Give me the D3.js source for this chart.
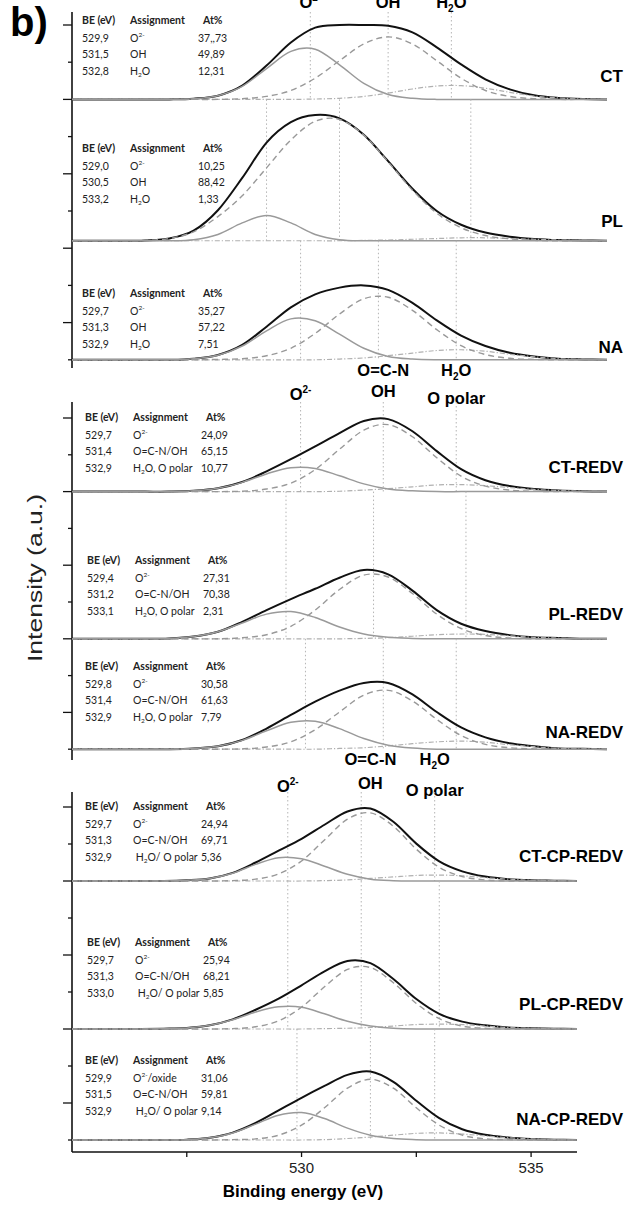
<!DOCTYPE html>
<html>
<head>
<meta charset="utf-8">
<script src="https://cdn.jsdelivr.net/npm/d3@7"></script>
<style>
  body { margin: 0; background: #fff; }
  svg { display: block; }
  text { white-space: pre; }
</style>
</head>
<body>
<div id="chart"></div>
<script>
// binding energy grid of the fitted curves (eV)
const energy = [525, 525.5, 526, 526.5, 527, 527.5, 528, 528.5, 529, 529.5, 530, 530.5, 531, 531.5, 532, 532.5, 533, 533.5, 534, 534.5, 535, 535.5, 536];

const samples = ["CT", "PL", "NA", "CT-REDV", "PL-REDV", "NA-REDV", "CT-CP-REDV", "PL-CP-REDV", "NA-CP-REDV"];

// fitted O1s components, one row per sample (a.u.)
const o2Fit = [
  [0,0,0,0,0,0.2,1.0,3.5,8.3,12.9,13.5,9.3,4.3,1.3,0.3,0,0,0,0,0,0,0,0],
  [0,0,0,0,0,0.3,1.7,4.8,6.8,4.8,1.7,0.3,0,0,0,0,0,0,0,0,0,0,0],
  [0,0,0,0,0,0.3,1.2,3.7,7.8,11.0,10.5,6.9,3.1,0.9,0.2,0,0,0,0,0,0,0,0],
  [0,0,0,0,0,0.2,0.9,2.5,4.8,6.5,6.3,4.3,2.1,0.7,0.2,0,0,0,0,0,0,0,0],
  [0,0,0,0,0.1,0.6,1.9,4.3,6.7,7.4,5.8,3.2,1.3,0.4,0.1,0,0,0,0,0,0,0,0],
  [0,0,0,0,0,0.2,0.8,2.4,5.0,7.3,7.6,5.6,2.9,1.1,0.3,0,0,0,0,0,0,0,0],
  [0,0,0,0,0,0.2,0.7,2.1,4.5,6.3,6.0,4.0,1.8,0.5,0.1,0,0,0,0,0,0,0,0],
  [0,0,0,0,0.1,0.3,1.0,2.5,4.6,6.0,5.9,4.1,2.1,0.8,0.2,0,0,0,0,0,0,0,0],
  [0,0,0,0,0,0.1,0.6,1.9,4.3,6.7,7.4,5.8,3.2,1.3,0.4,0.1,0,0,0,0,0,0,0]
];
const ohFit = [
  [0,0,0,0,0,0,0,0.2,0.8,2.4,5.7,10.4,14.9,16.8,14.9,10.4,5.7,2.4,0.8,0.2,0,0,0],
  [0,0,0,0.1,0.6,2.4,6.5,12.1,19.6,27.1,32.1,32.6,28.4,21.2,13.6,7.4,3.5,1.4,0.5,0.1,0,0,0],
  [0,0,0,0,0,0,0.1,0.3,1.1,3.1,7.1,12.3,16.4,16.8,13.3,8.1,3.8,1.4,0.4,0.1,0,0,0],
  [0,0,0,0,0,0,0,0.1,0.7,2.3,6.0,11.5,16.7,18.2,14.9,9.2,4.2,1.5,0.4,0.1,0,0,0],
  [0,0,0,0,0,0,0,0.3,1.1,3.4,7.8,13.4,17.3,16.8,12.3,6.7,2.8,0.9,0.2,0,0,0,0],
  [0,0,0,0,0,0,0,0.1,0.6,2.0,5.3,10.1,14.7,16.0,13.1,8.1,3.7,1.3,0.4,0.1,0,0,0],
  [0,0,0,0,0,0,0,0.1,0.5,1.9,5.4,11.1,16.7,18.4,14.8,8.6,3.7,1.2,0.3,0,0,0,0],
  [0,0,0,0,0,0,0,0.1,0.6,2.2,5.9,11.4,16.1,16.6,12.5,6.9,2.8,0.8,0.2,0,0,0,0],
  [0,0,0,0,0,0,0,0.1,0.3,1.3,4.0,8.7,14.0,16.4,14.0,8.7,4.0,1.3,0.3,0.1,0,0,0]
];
const h2oFit = [
  [0,0,0,0,0,0,0,0,0,0,0.1,0.3,0.8,1.7,2.8,3.6,3.7,3.0,1.9,0.9,0.4,0.1,0],
  [0,0,0,0,0,0,0,0,0,0,0,0,0.1,0.2,0.4,0.6,0.8,0.8,0.6,0.4,0.2,0.1,0],
  [0,0,0,0,0,0,0,0,0,0,0,0.2,0.5,1.1,1.8,2.5,2.7,2.3,1.5,0.8,0.3,0.1,0],
  [0,0,0,0,0,0,0,0,0,0,0,0.1,0.4,0.8,1.3,1.8,1.9,1.6,1.1,0.6,0.3,0.1,0],
  [0,0,0,0,0,0,0,0,0,0,0,0,0.1,0.3,0.7,1.1,1.3,1.2,0.8,0.4,0.2,0,0],
  [0,0,0,0,0,0,0,0,0,0,0,0.2,0.4,0.9,1.5,2.0,2.2,1.9,1.2,0.7,0.2,0.1,0],
  [0,0,0,0,0,0,0,0,0,0,0,0.1,0.3,0.7,1.1,1.5,1.6,1.4,0.9,0.5,0.2,0.1,0],
  [0,0,0,0,0,0,0,0,0,0,0,0.1,0.2,0.4,0.8,1.2,1.3,1.2,0.8,0.4,0.2,0.1,0],
  [0,0,0,0,0,0,0,0,0,0,0,0.1,0.4,0.8,1.3,1.8,1.9,1.6,1.1,0.6,0.3,0.1,0]
];

// fit tables
const beValues = [
  [529.9, 531.5, 532.8], [529.0, 530.5, 533.2], [529.7, 531.3, 532.9],
  [529.7, 531.4, 532.9], [529.4, 531.2, 533.1], [529.8, 531.4, 532.9],
  [529.7, 531.3, 532.9], [529.7, 531.3, 533.0], [529.9, 531.5, 532.9]
];
const assignments = [
  ["O^{2-}", "OH", "H_{2}O"], ["O^{2-}", "OH", "H_{2}O"], ["O^{2-}", "OH", "H_{2}O"],
  ["O^{2-}", "O=C-N/OH", "H_{2}O, O polar"], ["O^{2-}", "O=C-N/OH", "H_{2}O, O polar"], ["O^{2-}", "O=C-N/OH", "H_{2}O, O polar"],
  ["O^{2-}", "O=C-N/OH", " H_{2}O/ O polar"], ["O^{2-}", "O=C-N/OH", " H_{2}O/ O polar"], ["O^{2-}/oxide", "O=C-N/OH", " H_{2}O/ O polar"]
];
const atPercent = [
  ["37,,73", "49,89", "12,31"], ["10,25", "88,42", "1,33"], ["35,27", "57,22", "7,51"],
  ["24,09", "65,15", "10,77"], ["27,31", "70,38", "2,31"], ["30,58", "61,63", "7,79"],
  ["24,94", "69,71", "5,36"], ["25,94", "68,21", "5,85"], ["31,06", "59,81", "9,14"]
];
const tableHeader = ["BE (eV)", "Assignment", "At%"];

// peak labels above each block
const peakBE = [[529.9, 531.5, 532.8], [529.7, 531.4, 532.9], [529.7, 531.5, 532.9]];
const peakTop = [["O^{2-}", "OH", "H_{2}O"], ["", "O=C-N", "H_{2}O"], ["", "O=C-N", "H_{2}O"]];
const peakBottom = [["", "", ""], ["O^{2-}", "OH", "O polar"], ["O^{2-}", "OH", "O polar"]];

const xTicks = [527.5, 530, 532.5, 535];
const xTickLabels = ["", "530", "", "535"];

// layout of the three blocks (three stacked spectra each)
const blocks = [
  {t0: 25, step: 37.2, top: 12, bottom: 368, x1: 607, base: [2, 5.8, 9], top1: 8, top2: 8, top3: 8},
  {t0: 418, step: 36.8, top: 402, bottom: 760, x1: 607, base: [2, 6, 9], top1: 376, top2: 397, top3: 400},
  {t0: 807, step: 37, top: 792, bottom: 1152, x1: 577, base: [2, 6, 9], top1: 765, top2: 789, top3: 792}
];
const tableX = [82, 82, 82, 85, 87, 85, 85, 87, 85];
const tableY = [20, 148, 293, 417, 560, 666, 806, 942, 1060];
const labelY = [82, 227, 353, 473, 620, 738, 862, 1010, 1125];

const svg = d3.select("#chart").append("svg")
  .attr("width", 626)
  .attr("height", 1211)
  .style("font-family", "'Liberation Sans', Arial, sans-serif");

const tableFont = "Lato, 'Open Sans', sans-serif";
const fmtBE = d => d3.format(".1f")(d).replace(".", ",");

// text with ^{sup} and _{sub} parts
function rich(text, str, small, up, down) {
  let back = 0;
  str.split(/(\^\{[^}]*\}|_\{[^}]*\})/).filter(s => s).forEach(p => {
    const t = text.append("tspan");
    if (p[0] === "^") {
      t.attr("dy", back - up).attr("font-size", small).text(p.slice(2, -1));
      back = up;
    } else if (p[0] === "_") {
      t.attr("dy", back + down).attr("font-size", small).text(p.slice(2, -1));
      back = -down;
    } else {
      t.attr("dy", back).text(p);
      back = 0;
    }
  });
}

// "b)"
svg.append("text").attr("x", 10).attr("y", 36)
  .attr("font-size", 40).attr("font-weight", "bold").text("b)");

// y axis title
svg.append("text")
  .attr("transform", "translate(42, 578) rotate(-90)")
  .attr("text-anchor", "middle")
  .attr("font-size", 20)
  .attr("fill", "#222")
  .attr("textLength", 168)
  .attr("lengthAdjust", "spacingAndGlyphs")
  .text("Intensity (a.u.)");

blocks.forEach((b, g) => {
  const x = d3.scaleLinear().domain([525, 536]).range([72, b.x1]);
  const ty = d3.scaleLinear().domain([0, 9]).range([b.t0, b.t0 + 9 * b.step]);

  // y axis with alternating long / short ticks
  svg.append("line")
    .attr("x1", 72).attr("x2", 72).attr("y1", b.top).attr("y2", b.bottom)
    .attr("stroke", "#111").attr("stroke-width", 1.6);
  svg.selectAll(null).data(d3.range(10)).enter().append("line")
    .attr("x1", i => i % 2 ? 68 : 63).attr("x2", 72)
    .attr("y1", i => ty(i)).attr("y2", i => ty(i))
    .attr("stroke", "#111").attr("stroke-width", 1.3);

  // peak labels
  peakTop[g].forEach((s, k) => {
    if (!s) return;
    const t = svg.append("text")
      .attr("x", x(peakBE[g][k])).attr("y", b.top1)
      .attr("text-anchor", "middle")
      .attr("font-size", 16.5).attr("font-weight", "bold");
    rich(t, s, 10, 7, 4);
  });
  peakBottom[g].forEach((s, k) => {
    if (!s) return;
    const yy = k === 0 ? b.top3 : (k === 1 ? b.top2 : b.top3 + 4);
    const t = svg.append("text")
      .attr("x", x(peakBE[g][k])).attr("y", yy)
      .attr("text-anchor", "middle")
      .attr("font-size", 16.5).attr("font-weight", "bold");
    rich(t, s, 10, 7, 4);
  });

  b.base.forEach((bt, p) => {
    const s = g * 3 + p;
    const y = v => ty(bt - v / 10);
    const prev = p === 0 ? b.top : ty(b.base[p - 1]);

    // dotted guides at the fitted binding energies
    svg.selectAll(null).data(beValues[s]).enter().append("line")
      .attr("x1", d => x(d)).attr("x2", d => x(d))
      .attr("y1", prev).attr("y2", y(0))
      .attr("stroke", "#b5b5b5").attr("stroke-width", 1)
      .attr("stroke-dasharray", "1.5,2.5");

    const line = d3.line()
      .x((d, i) => x(energy[i]))
      .y(d => y(d))
      .curve(d3.curveCardinal.tension(0));

    const envelope = energy.map((e, i) => o2Fit[s][i] + ohFit[s][i] + h2oFit[s][i]);

    svg.append("path").attr("d", line(envelope))
      .attr("fill", "none").attr("stroke", "#111").attr("stroke-width", 2);
    svg.append("path").attr("d", line(h2oFit[s]))
      .attr("fill", "none").attr("stroke", "#b0b0b0").attr("stroke-width", 1.2)
      .attr("stroke-dasharray", "5,2,1.2,2");
    svg.append("path").attr("d", line(ohFit[s]))
      .attr("fill", "none").attr("stroke", "#999").attr("stroke-width", 1.4)
      .attr("stroke-dasharray", "6,4");
    svg.append("path").attr("d", line(o2Fit[s]))
      .attr("fill", "none").attr("stroke", "#9a9a9a").attr("stroke-width", 1.5);

    // sample label
    svg.append("text")
      .attr("x", 623).attr("y", labelY[s])
      .attr("text-anchor", "end")
      .attr("font-size", 17).attr("font-weight", "bold")
      .text(samples[s]);

    // fit table
    const tx = tableX[s], tyy = tableY[s];
    const cols = [0, 48, 121];
    tableHeader.forEach((h, c) => {
      svg.append("text")
        .attr("x", tx + cols[c]).attr("y", tyy + 4)
        .attr("font-family", tableFont).attr("font-size", 10.5).attr("font-weight", "bold")
        .attr("fill", "#222")
        .text(h);
    });
    [18, 34, 51].forEach((dy, r) => {
      const yy = tyy + dy + 4;
      svg.append("text").attr("x", tx).attr("y", yy)
        .attr("font-family", tableFont).attr("font-size", 10.5).attr("fill", "#222")
        .text(fmtBE(beValues[s][r]));
      const t = svg.append("text").attr("x", tx + 48).attr("y", yy)
        .attr("font-family", tableFont).attr("font-size", 10.5).attr("fill", "#222");
      rich(t, assignments[s][r], 6.5, 5, 2);
      svg.append("text").attr("x", tx + 116).attr("y", yy)
        .attr("font-family", tableFont).attr("font-size", 10.5).attr("fill", "#222")
        .text(atPercent[s][r]);
    });
  });

  // x axis on the last block
  if (g === 2) {
    svg.append("line")
      .attr("x1", 72).attr("x2", b.x1).attr("y1", b.bottom).attr("y2", b.bottom)
      .attr("stroke", "#111").attr("stroke-width", 1.6);
    svg.selectAll(null).data(xTicks).enter().append("line")
      .attr("x1", d => x(d)).attr("x2", d => x(d))
      .attr("y1", b.bottom).attr("y2", b.bottom + 5)
      .attr("stroke", "#111").attr("stroke-width", 1.3);
    svg.selectAll(null).data(xTicks).enter().append("text")
      .attr("x", d => x(d)).attr("y", b.bottom + 21)
      .attr("text-anchor", "middle").attr("font-size", 15).attr("fill", "#222")
      .text((d, i) => xTickLabels[i]);
    svg.append("text")
      .attr("x", 303).attr("y", b.bottom + 45)
      .attr("text-anchor", "middle")
      .attr("font-size", 17).attr("font-weight", "bold")
      .text("Binding energy (eV)");
  }
});
</script>
</body>
</html>
